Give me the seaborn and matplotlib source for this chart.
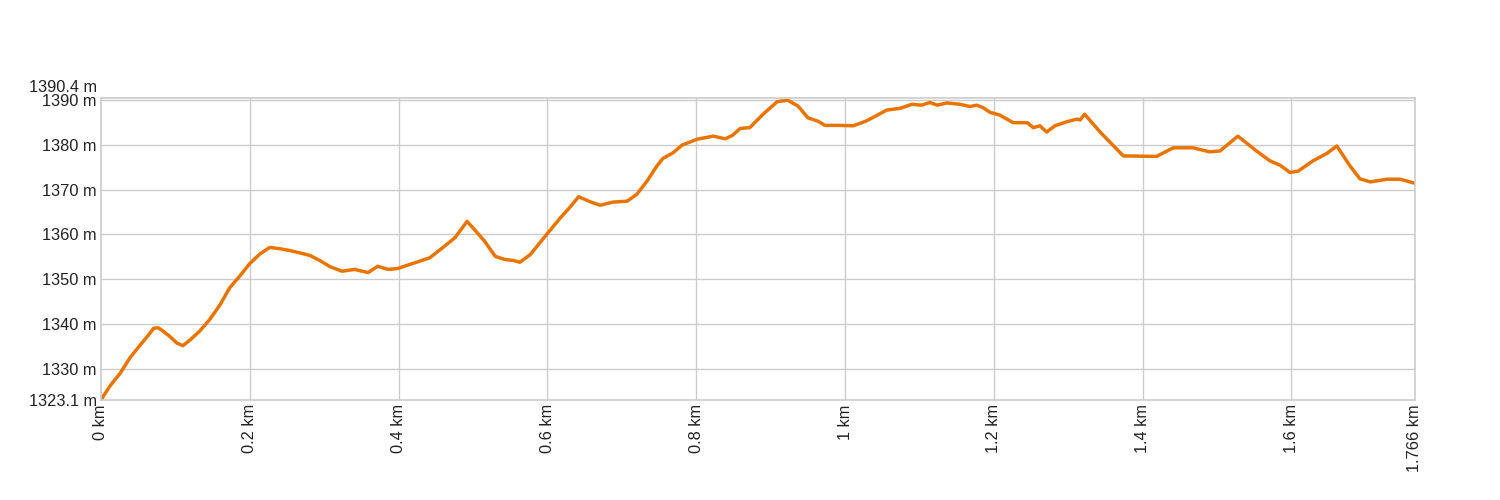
import matplotlib
matplotlib.use("Agg")
import matplotlib.pyplot as plt
import matplotlib.transforms as mtransforms
import seaborn as sns
import pandas as pd

# elevation profile (distance in km, elevation in m)
distance_km = [
    0.000, 0.012, 0.026, 0.039, 0.052, 0.063, 0.071, 0.077, 0.083, 0.093,
    0.102, 0.110, 0.120, 0.133, 0.146, 0.160, 0.173, 0.187, 0.200, 0.214,
    0.227, 0.241, 0.254, 0.267, 0.281, 0.294, 0.308, 0.324, 0.341, 0.359,
    0.372, 0.386, 0.399, 0.413, 0.426, 0.442, 0.462, 0.476, 0.492, 0.503,
    0.516, 0.530, 0.543, 0.554, 0.563, 0.577, 0.599, 0.617, 0.630, 0.642,
    0.657, 0.671, 0.688, 0.707, 0.720, 0.734, 0.747, 0.755, 0.769, 0.781,
    0.801, 0.823, 0.839, 0.849, 0.859, 0.872, 0.890, 0.909, 0.923, 0.937,
    0.950, 0.964, 0.973, 0.993, 1.011, 1.029, 1.056, 1.074, 1.090, 1.103,
    1.114, 1.124, 1.137, 1.154, 1.168, 1.177, 1.185, 1.195, 1.208, 1.226,
    1.245, 1.253, 1.262, 1.271, 1.282, 1.298, 1.312, 1.316, 1.322, 1.343,
    1.374, 1.410, 1.419, 1.441, 1.468, 1.490, 1.504, 1.528, 1.553, 1.571,
    1.585, 1.598, 1.609, 1.629, 1.648, 1.661, 1.679, 1.692, 1.706, 1.728,
    1.746, 1.766,
]
elevation_m = [
    1323.1, 1326.2, 1329.1, 1332.5, 1335.2, 1337.4, 1339.1, 1339.2, 1338.5, 1337.2,
    1335.8, 1335.2, 1336.5, 1338.5, 1341.0, 1344.3, 1348.1, 1350.8, 1353.5, 1355.7,
    1357.1, 1356.8, 1356.4, 1355.9, 1355.3, 1354.2, 1352.8, 1351.8, 1352.2, 1351.5,
    1352.9, 1352.2, 1352.4, 1353.2, 1353.9, 1354.8, 1357.4, 1359.3, 1362.9, 1360.9,
    1358.4, 1355.1, 1354.4, 1354.2, 1353.8, 1355.5, 1360.0, 1363.6, 1366.0, 1368.4,
    1367.3, 1366.5, 1367.2, 1367.4, 1368.9, 1371.9, 1375.2, 1376.9, 1378.2, 1379.9,
    1381.2, 1381.9, 1381.3, 1382.1, 1383.6, 1383.8, 1386.8, 1389.6, 1389.9, 1388.6,
    1386.0, 1385.2, 1384.3, 1384.3, 1384.2, 1385.3, 1387.7, 1388.1, 1389.0, 1388.8,
    1389.4, 1388.8, 1389.3, 1389.0, 1388.5, 1388.8, 1388.3, 1387.2, 1386.6, 1384.9,
    1384.9, 1383.8, 1384.2, 1382.8, 1384.2, 1385.1, 1385.7, 1385.5, 1386.8, 1382.8,
    1377.5, 1377.4, 1377.4, 1379.3, 1379.3, 1378.4, 1378.6, 1381.9, 1378.6, 1376.4,
    1375.4, 1373.8, 1374.1, 1376.4, 1378.1, 1379.7, 1375.2, 1372.4, 1371.7, 1372.3,
    1372.3, 1371.4,
]

x_ticks = [0, 0.2, 0.4, 0.6, 0.8, 1.0, 1.2, 1.4, 1.6, 1.766]
x_labels = ["0 km", "0.2 km", "0.4 km", "0.6 km", "0.8 km", "1 km",
            "1.2 km", "1.4 km", "1.6 km", "1.766 km"]
y_ticks = [1323.1, 1330, 1340, 1350, 1360, 1370, 1380, 1390, 1390.4]
y_labels = ["1323.1 m", "1330 m", "1340 m", "1350 m", "1360 m", "1370 m",
            "1380 m", "1390 m", "1390.4 m"]

profile = pd.DataFrame({"distance": distance_km, "elevation": elevation_m})

sns.set_style("white")
plt.rcParams["font.family"] = ["Liberation Sans", "DejaVu Sans"]

fig = plt.figure(figsize=(15, 5), dpi=100)
ax = fig.add_axes([0.0673, 0.2, 0.876, 0.604])

sns.lineplot(data=profile, x="distance", y="elevation", ax=ax,
             color="#e87503", linewidth=2.5)

ax.set_xlim(0, 1.766)
ax.set_ylim(1323.1, 1390.4)
ax.set_xticks(x_ticks)
ax.set_xticklabels(x_labels, rotation=90)
ax.set_yticks(y_ticks)
ax.set_yticklabels(y_labels)
ax.tick_params(length=0, labelsize=11.8, colors="#222222", pad=3)
ax.set_xlabel("")
ax.set_ylabel("")

# gridlines at the round values only
for v in x_ticks[1:-1]:
    ax.axvline(v, color="#cccccc", linewidth=1, zorder=0)
for v in y_ticks[1:-1]:
    ax.axhline(v, color="#cccccc", linewidth=1, zorder=0)
for s in ax.spines.values():
    s.set_color("#cccccc")
    s.set_linewidth(1.2)

# top label sits above the 1390 m one
top = ax.get_yticklabels()[-1]
top.set_transform(top.get_transform() +
                  mtransforms.ScaledTranslation(0, 8.6 / 72, fig.dpi_scale_trans))

fig.savefig("out.png", dpi=100)
